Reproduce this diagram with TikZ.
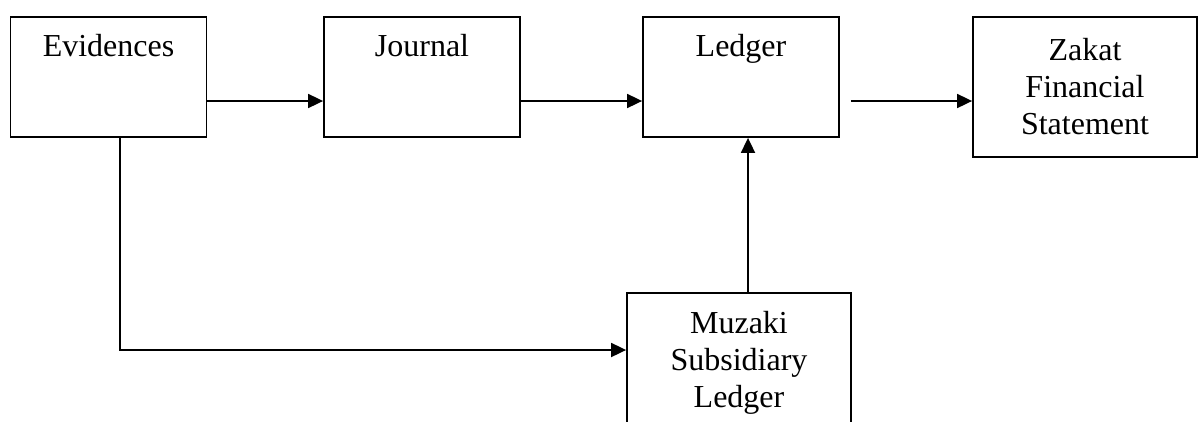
\documentclass[tikz,border=0pt]{standalone}
\usepackage{fontspec}
\setmainfont{Liberation Serif}
\usepackage{tikz}
\usetikzlibrary{arrows.meta}

\tikzset{
        box/.style={draw, line width=1.8pt, rectangle, inner sep=0pt, align=center,
                font=\fontsize{32}{37}\selectfont},
        topbox/.style={box, minimum width=196pt, text height=39pt, text depth=81pt},
        flow/.style={line width=1.8pt, -{Triangle[length=15pt,width=14pt]}}
}

\begin{document}
\begin{tikzpicture}[x=1pt, y=-1pt]
        \useasboundingbox (0,0) rectangle (1198,421);

        \node[topbox] (ev) at (108.5,77) {Evidences};
        \node[topbox] (jr) at (422,77) {Journal};
        \node[topbox] (ld) at (741,77) {Ledger};
        \node[box, minimum width=224pt, minimum height=140pt] (zk) at (1085,87) {Zakat\\Financial\\Statement};
        \node[box, minimum width=224pt, minimum height=140pt] (mz) at (739,363) {Muzaki\\Subsidiary\\Ledger};

        \coordinate (row) at (0,101);
        \coordinate (low) at (0,350);

        \draw[flow] (ev.east |- row) -- (jr.west |- row);
        \draw[flow] (jr.east |- row) -- (ld.west |- row);
        \draw[flow] ([xshift=11pt]ld.east |- row) -- (zk.west |- row);  % gap before the arrow
        \draw[flow] ([xshift=9pt]mz.north) -- ([xshift=7pt]ld.south);
        \draw[flow] ([xshift=11.5pt]ev.south) |- (mz.west |- low);
    \end{tikzpicture}
\end{document}
